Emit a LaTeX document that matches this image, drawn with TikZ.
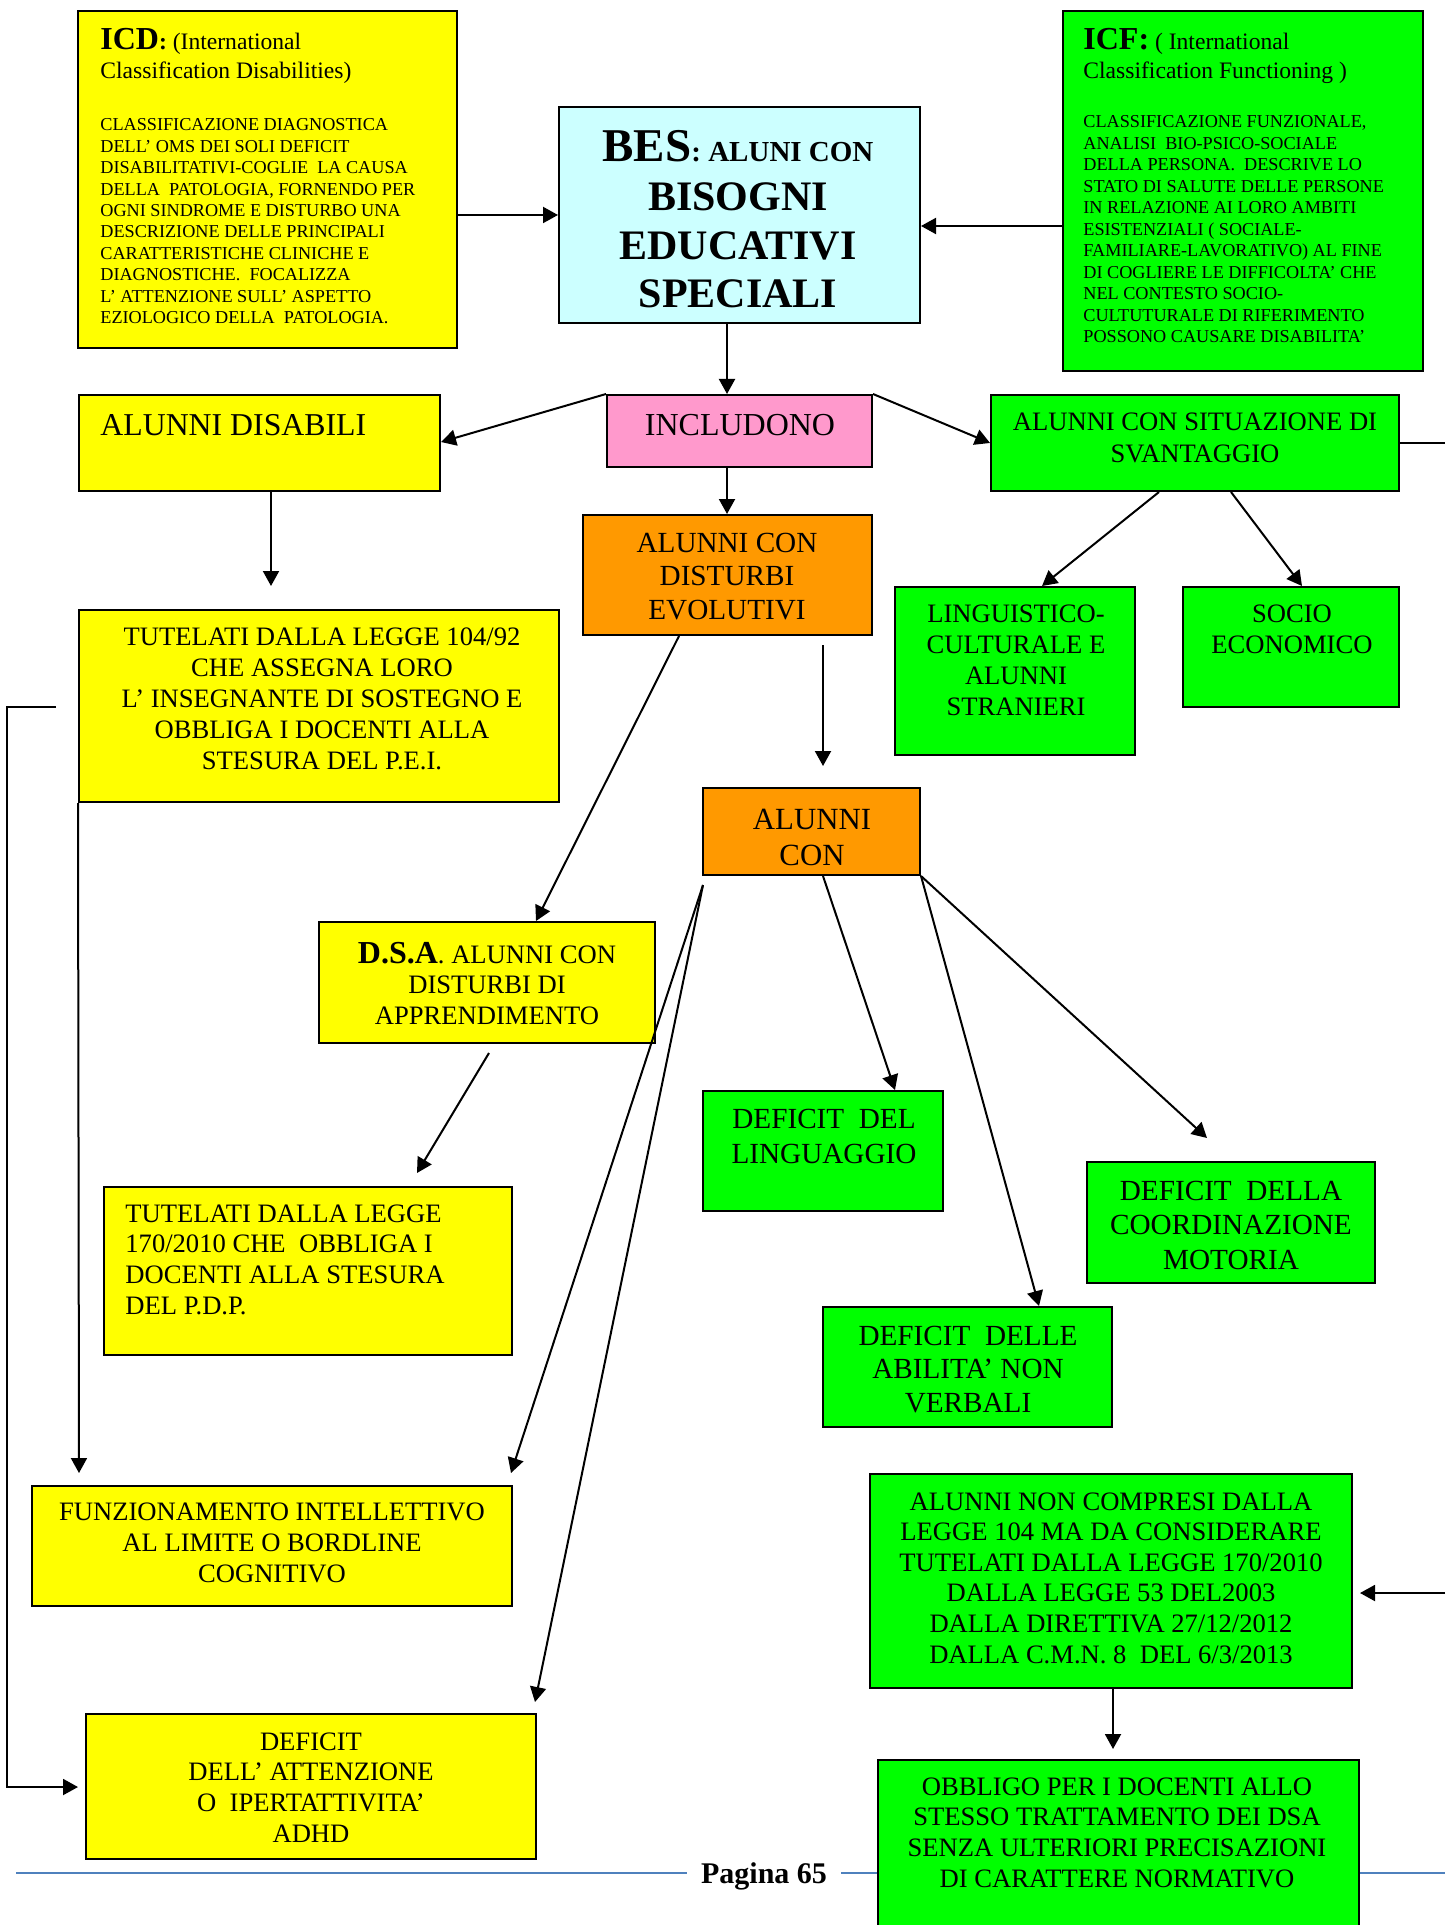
\documentclass[tikz,border=0pt]{standalone}
\usepackage{fontspec}
\setmainfont{Liberation Serif}
\usetikzlibrary{arrows.meta,fit}
\definecolor{ylw}{RGB}{255,255,0}
\definecolor{cyn}{RGB}{204,255,255}
\definecolor{grn}{RGB}{0,255,0}
\definecolor{pnk}{RGB}{255,153,204}
\definecolor{org}{RGB}{255,153,0}
\definecolor{blu}{RGB}{79,129,189}
\newcommand{\fs}[2]{\fontsize{#1}{#2}\selectfont}
\newcommand{\ctr}[2]{\parbox[t]{320pt}{\fs{13.3}{#1}\centering #2}}
\newcommand{\lft}[2]{\parbox[t]{320pt}{\fs{13.3}{#1}\raggedright #2}}
\tikzset{
  bx/.style={draw=black, line width=1pt, inner sep=0pt},
  arr/.style={-{Triangle[length=7.5pt,width=8pt]}, line width=1pt},
  ln/.style={line width=1pt},
  tx/.style={anchor=base, inner sep=0pt},
  txw/.style={anchor=base west, inner sep=0pt},
}
\begin{document}
\begin{tikzpicture}[x=0.5pt,y=-0.5pt]
\useasboundingbox (0,0) rectangle (1445,1925);
\fill[white] (0,0) rectangle (1445,1925);

% footer line
\draw[blu, line width=1pt] (16,1873) -- (1445,1873);
\node[tx, fill=white, inner xsep=7pt, inner ysep=2pt] (pag) at (764,1883) {\fs{15}{18}\bfseries Pagina 65};

% boxes
\node[bx, fill=ylw, fit={(78,11) (457,348)}] (icd) {};
\node[bx, fill=cyn, fit={(559,107) (920,323)}] (bes) {};
\node[bx, fill=grn, fit={(1063,11) (1423,371)}] (icf) {};
\node[bx, fill=ylw, fit={(79,395) (440,491)}] (dis) {};
\node[bx, fill=pnk, fit={(607,395) (872,467)}] (incl) {};
\node[bx, fill=grn, fit={(991,395) (1399,491)}] (sit) {};
\node[bx, fill=org, fit={(583,515) (872,635)}] (dev) {};
\node[bx, fill=ylw, fit={(79,610) (559,802)}] (t104) {};
\node[bx, fill=grn, fit={(895,587) (1135,755)}] (ling) {};
\node[bx, fill=grn, fit={(1183,587) (1399,707)}] (soc) {};
\node[bx, fill=org, fit={(703,788) (920,875)}] (alcon) {};
\node[bx, fill=ylw, fit={(319,922) (655,1043)}] (dsa) {};
\node[bx, fill=ylw, fit={(104,1187) (512,1355)}] (t170) {};
\node[bx, fill=grn, fit={(703,1091) (943,1211)}] (lingu) {};
\node[bx, fill=grn, fit={(823,1307) (1112,1427)}] (abil) {};
\node[bx, fill=grn, fit={(1087,1162) (1375,1283)}] (coord) {};
\node[bx, fill=ylw, fit={(32,1486) (512,1606)}] (funz) {};
\node[bx, fill=ylw, fit={(86,1714) (536,1859)}] (adhd) {};
\node[bx, fill=grn, fit={(870,1474) (1352,1688)}] (noncomp) {};
\node[bx, fill=grn, fit={(878,1760) (1359,1945)}] (obb) {};

% free ends
\coordinate (redgeA) at (1445,443);
\coordinate (redgeB) at (1445,1593);
\coordinate (pA) at (271,586);
\coordinate (pB) at (823,645);
\coordinate (pC) at (823,766);
\coordinate (pD) at (489,1053);
\coordinate (pE) at (417,1173);
\coordinate (pF) at (79,1473);
\coordinate (pG) at (56,707);
\coordinate (pH) at (78,1787);
\coordinate (pI) at (703,885);
\coordinate (pJ) at (511,1473);
\coordinate (pK) at (535,1702);
\coordinate (pL) at (1207,1138);
\coordinate (pM) at (1360,1593);
\coordinate (pN) at (1113,1749);

% connectors
\draw[arr] (icd.east |- 0,215) -- (bes.west |- 0,215);
\draw[arr] (icf.west |- 0,226) -- (bes.east |- 0,226);
\draw[arr] (bes.south -| 727,0) -- (incl.north -| 727,0);
\draw[arr] (incl.north west) -- (dis.east |- 0,442);
\draw[arr] (incl.north east) -- (sit.west |- 0,443);
\draw[arr] (incl.south -| 727,0) -- (dev.north -| 727,0);
\draw[ln] (sit.east |- 0,443) -- (redgeA);
\draw[arr] (sit.south -| 1159,0) -- (ling.north -| 1042,0);
\draw[arr] (sit.south -| 1231,0) -- (soc.north -| 1302,0);
\draw[arr] (dis.south -| 271,0) -- (pA);
\draw[arr] (dev.south -| 679,0) -- (dsa.north -| 536,0);
\draw[arr] (pB) -- (pC);
\draw[arr] (pD) -- (pE);
\draw[arr] (t104.south west) -- (pF);
\draw[arr] (pG) -- ++(-49,0) |- (pH);
\draw[arr] (pI) -- (pJ);
\draw[arr] (pI) -- (pK);
\draw[arr] (alcon.south -| 823,0) -- (lingu.north -| 895,0);
\draw[arr] (alcon.south east) -- (abil.north -| 1039,0);
\draw[arr] (alcon.south east) -- (pL);
\draw[arr] (redgeB) -- (pM);
\draw[arr] (noncomp.south -| 1113,0) -- (pN);

% texts
\node[txw] (icd-t) at (100,50) {\parbox[t]{180pt}{\fs{11.8}{14.5}\raggedright{\fs{16}{14.5}\bfseries ICD}{\bfseries :} (International\\Classification Disabilities)}};
\node[txw] (icd-b) at (100,131) {\parbox[t]{180pt}{\fs{9.1}{10.7}\raggedright CLASSIFICAZIONE DIAGNOSTICA\\DELL’ OMS DEI SOLI DEFICIT\\DISABILITATIVI-COGLIE\ \ LA CAUSA\\DELLA\ \ PATOLOGIA, FORNENDO PER\\OGNI SINDROME E DISTURBO UNA\\DESCRIZIONE DELLE PRINCIPALI\\CARATTERISTICHE CLINICHE E\\DIAGNOSTICHE.\ \ FOCALIZZA\\L’ ATTENZIONE SULL’ ASPETTO\\EZIOLOGICO DELLA\ \ PATOLOGIA.}};
\node[txw] (icf-t) at (1083,50) {\parbox[t]{180pt}{\fs{11.8}{14.5}\raggedright{\fs{16}{14.5}\bfseries ICF:} ( International\\Classification Functioning )}};
\node[txw] (icf-b) at (1083,128) {\parbox[t]{180pt}{\fs{9.1}{10.75}\raggedright CLASSIFICAZIONE FUNZIONALE,\\ANALISI\ \ BIO-PSICO-SOCIALE\\DELLA PERSONA.\ \ DESCRIVE LO\\STATO DI SALUTE DELLE PERSONE\\IN RELAZIONE AI LORO AMBITI\\ESISTENZIALI ( SOCIALE-\\FAMILIARE-LAVORATIVO) AL FINE\\DI COGLIERE LE DIFFICOLTA’ CHE\\NEL CONTESTO SOCIO-\\CULTUTURALE DI RIFERIMENTO\\POSSONO CAUSARE DISABILITA’}};
\node[tx] (bes-t) at (738,162) {\parbox[t]{320pt}{\fs{21}{24.3}\bfseries\centering{\fs{23.5}{24.3}BES}{\fs{14.5}{24.3}: ALUNI CON}\\BISOGNI\\EDUCATIVI\\SPECIALI}};
\node[txw] (dis-t) at (100,436) {\parbox[t]{320pt}{\fs{15.9}{18}\raggedright ALUNNI DISABILI}};
\node[tx] (incl-t) at (740,436) {\parbox[t]{320pt}{\fs{16}{18}\centering INCLUDONO}};
\node[tx] (sit-t) at (1195,430) {\ctr{16}{ALUNNI CON SITUAZIONE DI\\SVANTAGGIO}};
\node[tx] (dev-t) at (727,552) {\parbox[t]{320pt}{\fs{14.6}{16.9}\centering ALUNNI CON\\DISTURBI\\EVOLUTIVI}};
\node[tx] (t104-t) at (322,645) {\ctr{15.6}{TUTELATI DALLA LEGGE 104/92\\CHE ASSEGNA LORO\\L’ INSEGNANTE DI SOSTEGNO E\\OBBLIGA I DOCENTI ALLA\\STESURA DEL P.E.I.}};
\node[tx] (ling-t) at (1016,622) {\ctr{15.5}{LINGUISTICO-\\CULTURALE E\\ALUNNI\\STRANIERI}};
\node[tx] (soc-t) at (1292,622) {\ctr{15.5}{SOCIO\\ECONOMICO}};
\node[tx] (alcon-t) at (812,829) {\parbox[t]{320pt}{\fs{15.4}{18}\centering ALUNNI\\CON}};
\node[tx] (dsa-t) at (487,963) {\ctr{15.3}{{\fs{16}{15.3}\bfseries D.S.A}. ALUNNI CON\\DISTURBI DI\\APPRENDIMENTO}};
\node[txw] (t170-t) at (125,1222) {\lft{15.35}{TUTELATI DALLA LEGGE\\170/2010 CHE\ \ OBBLIGA I\\DOCENTI ALLA STESURA\\DEL P.D.P.}};
\node[tx] (lingu-t) at (824,1128) {\parbox[t]{320pt}{\fs{14.6}{17.5}\centering DEFICIT\ \ DEL\\LINGUAGGIO}};
\node[tx] (abil-t) at (968,1345) {\parbox[t]{320pt}{\fs{14.6}{16.8}\centering DEFICIT\ \ DELLE\\ABILITA’ NON\\VERBALI}};
\node[tx] (coord-t) at (1231,1200) {\parbox[t]{320pt}{\fs{14.6}{17.3}\centering DEFICIT\ \ DELLA\\COORDINAZIONE\\MOTORIA}};
\node[tx] (funz-t) at (272,1520) {\ctr{15.5}{FUNZIONAMENTO INTELLETTIVO\\AL LIMITE O BORDLINE\\COGNITIVO}};
\node[tx] (adhd-t) at (311,1750) {\ctr{15.35}{DEFICIT\\DELL’ ATTENZIONE\\O\ \ IPERTATTIVITA’\\ADHD}};
\node[tx] (noncomp-t) at (1111,1510) {\ctr{15.3}{ALUNNI NON COMPRESI DALLA\\LEGGE 104 MA DA CONSIDERARE\\TUTELATI DALLA LEGGE 170/2010\\DALLA LEGGE 53 DEL2003\\DALLA DIRETTIVA 27/12/2012\\DALLA C.M.N. 8\ \ DEL 6/3/2013}};
\node[tx] (obb-t) at (1117,1795) {\ctr{15.35}{OBBLIGO PER I DOCENTI ALLO\\STESSO TRATTAMENTO DEI DSA\\SENZA ULTERIORI PRECISAZIONI\\DI CARATTERE NORMATIVO}};
\end{tikzpicture}
\end{document}
